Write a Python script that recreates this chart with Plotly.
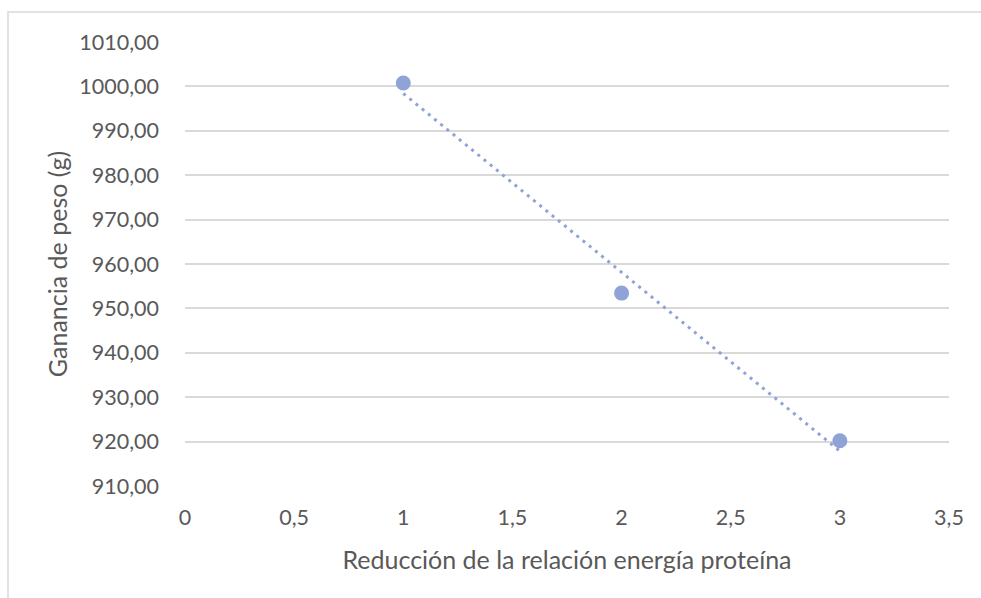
import numpy as np
import plotly.graph_objects as go

# Data
reduccion = [1, 2, 3]
ganancia = [1000.75, 953.45, 920.2]

x_ticks = [0, 0.5, 1, 1.5, 2, 2.5, 3, 3.5]
x_ticktext = ["0", "0,5", "1", "1,5", "2", "2,5", "3", "3,5"]
y_ticks = [910, 920, 930, 940, 950, 960, 970, 980, 990, 1000, 1010]
y_ticktext = ["910,00", "920,00", "930,00", "940,00", "950,00", "960,00",
              "970,00", "980,00", "990,00", "1000,00", "1010,00"]

MARK = "#8FA3D6"
TEXT = "#595959"
GRID = "#D9D9D9"
FONT = "Lato, 'Open Sans', sans-serif"

# Linear trendline fitted through the points
slope, intercept = np.polyfit(reduccion, ganancia, 1)
trend_x = [reduccion[0], reduccion[-1]]
trend_y = [slope * v + intercept for v in trend_x]

fig = go.Figure()
fig.add_trace(go.Scatter(
    x=trend_x, y=trend_y, mode="lines",
    line=dict(color=MARK, width=3, dash="3px,5px"),
    hoverinfo="skip", showlegend=False,
))
fig.add_trace(go.Scatter(
    x=reduccion, y=ganancia, mode="markers",
    marker=dict(color=MARK, size=15),
    showlegend=False,
))

fig.update_layout(
    width=981, height=598,
    margin=dict(l=185, r=32, t=42, b=112),
    paper_bgcolor="white", plot_bgcolor="white",
    font=dict(family=FONT, color=TEXT, size=21.5),
    shapes=[dict(type="rect", xref="paper", yref="paper",
                 x0=-177 / 764, x1=1.2, y0=-0.5, y1=1 + 30 / 444,
                 line=dict(color=GRID, width=1.5), layer="below")],
)
fig.update_xaxes(
    range=[0, 3.5], tickvals=x_ticks, ticktext=x_ticktext,
    showgrid=False, zeroline=False, showline=False, ticks="",
    tickfont=dict(size=21.5, color=TEXT), ticklabelstandoff=16,
    title=dict(text="Reducción de la relación energía proteína",
               font=dict(size=25, color=TEXT), standoff=22),
)
fig.update_yaxes(
    range=[910, 1010], tickvals=y_ticks, ticktext=y_ticktext,
    showgrid=True, gridcolor=GRID, gridwidth=1.5,
    zeroline=False, showline=False, ticks="",
    tickfont=dict(size=21.5, color=TEXT), ticklabelstandoff=25,
    title=dict(text="Ganancia de peso (g)",
               font=dict(size=25, color=TEXT), standoff=4),
)

fig.write_html("out.html")
